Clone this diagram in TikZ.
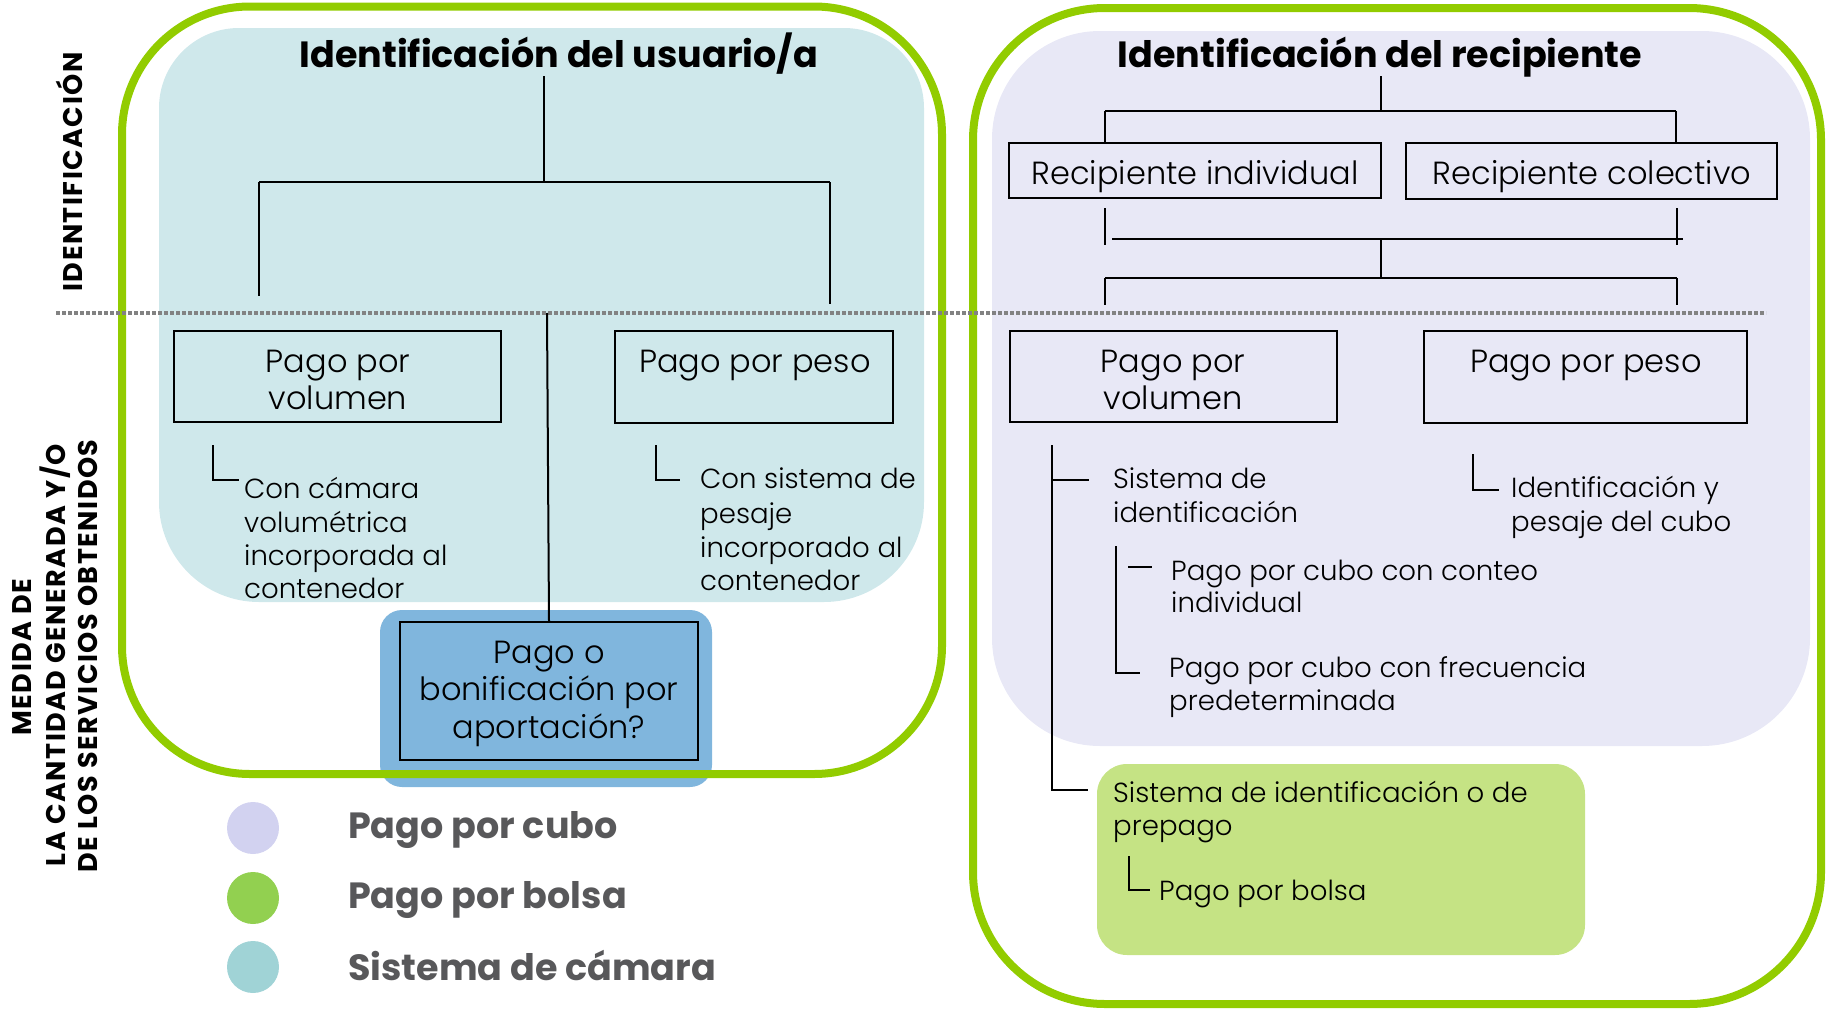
\documentclass[tikz,border=0pt]{standalone}
\usepackage{fontspec}
\setmainfont{Poppins}
\IfFontExistsTF{Poppins Light}{\newfontfamily\poplight{Poppins Light}}{\newfontfamily\poplight{Poppins}}
\newfontfamily\popspaced{Poppins}[LetterSpace=5.5]
\definecolor{frame}{RGB}{146,204,0}
\definecolor{cyanbg}{RGB}{207,232,235}
\definecolor{lavbg}{RGB}{232,232,246}
\definecolor{lgreen}{RGB}{197,227,132}
\definecolor{bluebg}{RGB}{128,182,221}
\definecolor{legcub}{RGB}{210,210,240}
\definecolor{legbol}{RGB}{146,208,80}
\definecolor{legcam}{RGB}{160,211,214}
\definecolor{legtext}{RGB}{88,88,90}
\definecolor{dotgray}{RGB}{130,130,130}
\begin{document}
\begin{tikzpicture}[x=1pt,y=-1pt,
  box/.style={draw=black, line width=2pt, rectangle, inner sep=0pt},
  conn/.style={draw=black, line width=2pt},
  bx/.style={font=\poplight\fontsize{32}{32}\selectfont, inner sep=0pt, anchor=base},
  sm/.style={font=\poplight\fontsize{27.6}{27.6}\selectfont, inner sep=0pt, anchor=base west},
  ttl/.style={font=\bfseries\fontsize{36.5}{36.5}\selectfont, inner sep=0pt, anchor=base},
  leg/.style={font=\bfseries\fontsize{36.5}{36.5}\selectfont, text=legtext, inner sep=0pt, anchor=base west},
  vl/.style={font=\popspaced\bfseries\fontsize{27}{27}\selectfont, inner sep=0pt, anchor=base, rotate=90},
  greenframe/.style={draw=frame, line width=8pt},
  dot/.style={circle, minimum size=52pt, inner sep=0pt},
]
\useasboundingbox (0,0) rectangle (1826,1009);
% backgrounds
\fill[cyanbg] (159,108) .. controls (159,63.8) and (194.8,28) .. (239,28) -- (844,28)
  .. controls (888.2,28) and (924,63.8) .. (924,108) -- (924,502)
  .. controls (924,557.2) and (879.2,602) .. (824,602) -- (259,602)
  .. controls (203.8,602) and (159,557.2) .. (159,502) -- cycle;
\fill[lavbg, rounded corners=108pt] (992,31) rectangle (1810,746);
\fill[lgreen, rounded corners=30pt] (1097,764) rectangle (1585,955);
\fill[bluebg, rounded corners=22pt] (380,610) rectangle (712,787);
% green frames
\draw[greenframe, rounded corners=128pt] (122,6.5) rectangle (942,774);
\draw[greenframe, rounded corners=132pt] (973,8) rectangle (1821,1004);
% dotted separator
\draw[dotgray, line width=4pt, dash pattern=on 3.5pt off 2.5pt] (56,313) -- (1766,313);

% side labels
\node[vl] (lid) at (82,172) {IDENTIFICACIÓN};
\node[vl] (lm1) at (31,657) {MEDIDA DE};
\node[vl] (lm2) at (65,655) {LA CANTIDAD GENERADA Y/O};
\node[vl] (lm3) at (97,656) {DE LOS SERVICIOS OBTENIDOS};

% ---- left tree
\node[ttl] (tl) at (559,67) {Identificación del usuario/a};
\coordinate (lt0) at (544,76);
\coordinate (lt1) at (544,182);
\coordinate (ltl) at (259,182);
\coordinate (ltr) at (830,182);
\coordinate (ltld) at (259,296);
\coordinate (ltrd) at (830,304);
\draw[conn] (lt0) -- (lt1);
\draw[conn] (ltl) -- (ltr);
\draw[conn] (ltl) -- (ltld);
\draw[conn] (ltr) -- (ltrd);

\node[box, minimum width=327pt, minimum height=91pt] (lpv) at (337.5,376.5) {};
\node[bx] (lpvt1) at (338,372) {Pago por};
\node[bx] (lpvt2) at (338,409) {volumen};
\node[box, minimum width=278pt, minimum height=92pt] (lpp) at (754,377) {};
\node[bx] (lppt) at (755,372) {Pago por peso};

\coordinate (lb1a) at (213,445);
\coordinate (lb1b) at (213,480);
\coordinate (lb1c) at (239,480);
\draw[conn] (lb1a) -- (lb1b) -- (lb1c);
\node[sm] (lc1) at (244,498) {Con cámara};
\node[sm] (lc2) at (244,532) {volumétrica};
\node[sm] (lc3) at (244,565) {incorporada al};
\node[sm] (lc4) at (244,598) {contenedor};

\coordinate (lb2a) at (656,445);
\coordinate (lb2b) at (656,480);
\coordinate (lb2c) at (680,480);
\draw[conn] (lb2a) -- (lb2b) -- (lb2c);
\node[sm] (ls1) at (700,488) {Con sistema de};
\node[sm] (ls2) at (700,523) {pesaje};
\node[sm] (ls3) at (700,557) {incorporado al};
\node[sm] (ls4) at (700,590) {contenedor};

\node[box, minimum width=298pt, minimum height=138pt] (bonus) at (549,691) {};
\node[bx] (bo1) at (549,663) {Pago o};
\node[bx] (bo2) at (549,700) {bonificación por};
\node[bx] (bo3) at (549,738) {aportación?};
\coordinate (cmid) at (547,313);
\draw[conn] (cmid) -- (bonus.north);

% ---- right tree
\node[ttl] (tr) at (1380,67) {Identificación del recipiente};
\coordinate (rt0) at (1381,76);
\coordinate (rt1) at (1381,111);
\coordinate (rtl) at (1105,111);
\coordinate (rtr) at (1676,111);
\node[box, minimum width=372pt, minimum height=55pt] (ri) at (1195,170.5) {};
\node[bx] (rit) at (1195,184) {Recipiente individual};
\node[box, minimum width=371pt, minimum height=56pt] (rc) at (1591.5,171) {};
\node[bx] (rct) at (1592,184) {Recipiente colectivo};
\draw[conn] (rt0) -- (rt1);
\draw[conn] (rtl) -- (rtr);
\draw[conn] (rtl) -- (rtl |- ri.north);
\draw[conn] (rtr) -- (rtr |- rc.north);

\coordinate (rb1) at (1105,208);
\coordinate (rb1d) at (1105,245);
\coordinate (rb2) at (1677,208);
\coordinate (rb2d) at (1677,245);
\coordinate (rh1a) at (1112,239);
\coordinate (rh1b) at (1683,239);
\coordinate (rm0) at (1381,239);
\coordinate (rm1) at (1381,278);
\coordinate (rh2a) at (1105,278);
\coordinate (rh2b) at (1677,278);
\coordinate (rh2ad) at (1105,305);
\coordinate (rh2bd) at (1677,305);
\draw[conn] (rb1) -- (rb1d);
\draw[conn] (rb2) -- (rb2d);
\draw[conn] (rh1a) -- (rh1b);
\draw[conn] (rm0) -- (rm1);
\draw[conn] (rh2a) -- (rh2b);
\draw[conn] (rh2a) -- (rh2ad);
\draw[conn] (rh2b) -- (rh2bd);

\node[box, minimum width=327pt, minimum height=91pt] (rpv) at (1173.5,376.5) {};
\node[bx] (rpvt1) at (1173,372) {Pago por};
\node[bx] (rpvt2) at (1173,409) {volumen};
\node[box, minimum width=323pt, minimum height=92pt] (rpp) at (1585.5,377) {};
\node[bx] (rppt) at (1586,372) {Pago por peso};

% right brackets
\coordinate (rv0) at (1052,445);
\coordinate (rv1) at (1052,480);
\coordinate (rv1e) at (1089,480);
\coordinate (rv2) at (1052,790);
\coordinate (rv2e) at (1088,790);
\draw[conn] (rv0) -- (rv2) -- (rv2e);
\draw[conn] (rv1) -- (rv1e);
\node[sm] (rs1) at (1113,488) {Sistema de};
\node[sm] (rs2) at (1113,522) {identificación};

\coordinate (rw0) at (1473,454);
\coordinate (rw1) at (1473,490);
\coordinate (rw2) at (1499,490);
\draw[conn] (rw0) -- (rw1) -- (rw2);
\node[sm] (rp1) at (1511,497) {Identificación y};
\node[sm] (rp2) at (1511,531) {pesaje del cubo};

\coordinate (su0) at (1116,546);
\coordinate (su1) at (1116,673);
\coordinate (su2) at (1140,673);
\coordinate (sd0) at (1128,567);
\coordinate (sd1) at (1152,567);
\draw[conn] (su0) -- (su1) -- (su2);
\draw[conn] (sd0) -- (sd1);
\node[sm] (ci1) at (1171,580) {Pago por cubo con conteo};
\node[sm] (ci2) at (1171,612) {individual};
\node[sm] (cf1) at (1169,677) {Pago por cubo con frecuencia};
\node[sm] (cf2) at (1169,710) {predeterminada};

\node[sm] (sp1) at (1113,802) {Sistema de identificación o de};
\node[sm] (sp2) at (1113,835) {prepago};
\coordinate (pb0) at (1129,856);
\coordinate (pb1) at (1129,890);
\coordinate (pb2) at (1150,890);
\draw[conn] (pb0) -- (pb1) -- (pb2);
\node[sm] (pbt) at (1159,900) {Pago por bolsa};

% legend
\node[dot, fill=legcub] (d1) at (253,828) {};
\node[dot, fill=legbol] (d2) at (253,898) {};
\node[dot, fill=legcam] (d3) at (253,967) {};
\node[leg] (g1) at (348,838) {Pago por cubo};
\node[leg] (g2) at (348,908) {Pago por bolsa};
\node[leg] (g3) at (348,980) {Sistema de cámara};
\end{tikzpicture}
\end{document}
